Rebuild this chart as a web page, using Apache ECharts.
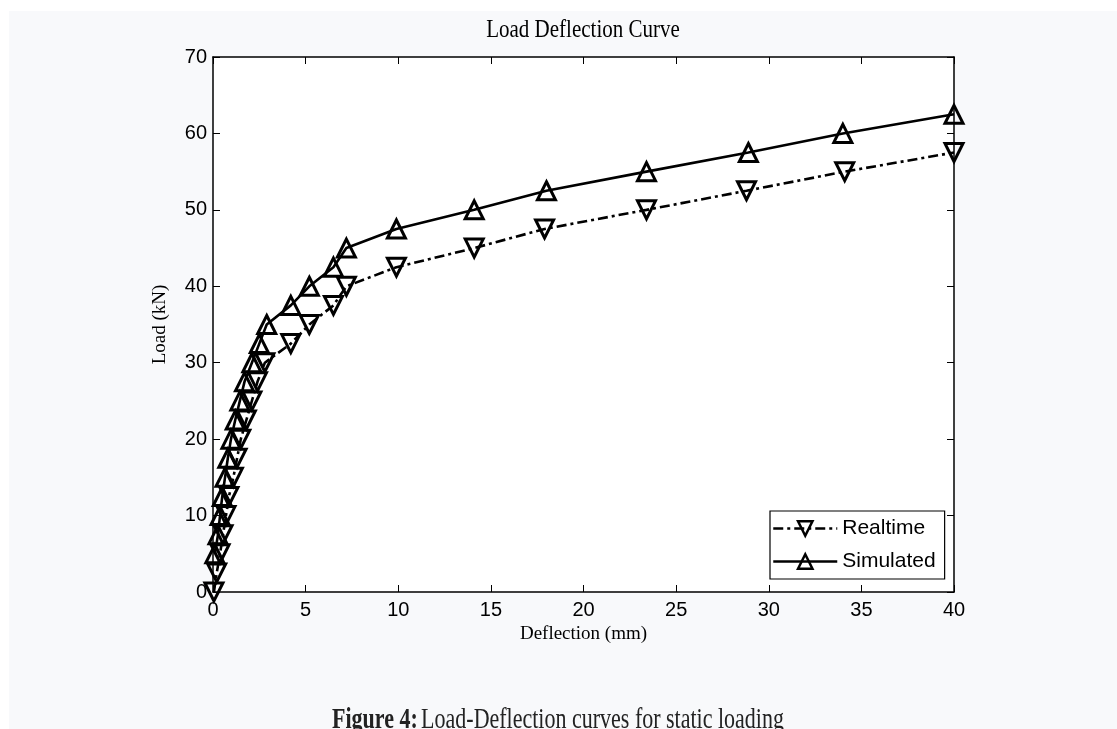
<!DOCTYPE html>
<html>
<head>
<meta charset="utf-8">
<script src="https://cdn.jsdelivr.net/npm/echarts@6/dist/echarts.min.js"></script>
<style>
html,body{margin:0;padding:0;background:#fff;}
#chart{width:1117px;height:729px;}
</style>
</head>
<body>
<div id="chart"></div>
<script>
// Data
const realtimeLoad = [0, 2.5, 5, 7.5, 10, 12.5, 15, 17.5, 20, 22.5, 25, 27.5, 30, 32.5, 35, 37.5, 40, 42.5, 45, 47.5, 50, 52.5, 55, 57.5];
const realtimeDefl = [0.05, 0.2, 0.38, 0.54, 0.7, 0.86, 1.1, 1.3, 1.5, 1.8, 2.1, 2.4, 2.8, 4.2, 5.2, 6.5, 7.2, 9.9, 14.1, 17.9, 23.4, 28.8, 34.1, 40];
const simulatedLoad = [5, 7.5, 10, 12.5, 15, 17.5, 20, 22.5, 25, 27.5, 30, 32.5, 35, 37.5, 40, 42.5, 45, 47.5, 50, 52.5, 55, 57.5, 60, 62.5];
const simulatedDefl = [0.1, 0.27, 0.38, 0.5, 0.65, 0.8, 0.97, 1.2, 1.45, 1.7, 2.1, 2.5, 2.9, 4.2, 5.2, 6.5, 7.2, 9.9, 14.1, 18.0, 23.4, 28.9, 34.0, 40];
const seriesNames = ['Realtime', 'Simulated'];
const chartTitle = 'Load Deflection Curve';
const xName = 'Deflection (mm)';
const yName = 'Load (kN)';

const serif = "'Liberation Serif','Times New Roman',serif";
const sans = "'Liberation Sans',Arial,sans-serif";

const chart = echarts.init(document.getElementById('chart'), null, {renderer: 'canvas'});

const pairs = (xs, ys) => xs.map((x, i) => [x, ys[i]]);

const axisCommon = {
  axisLine: {show: true, onZero: false, lineStyle: {color: '#000', width: 1.5}},
  axisTick: {show: true, inside: true, length: 7, lineStyle: {color: '#000', width: 1}},
  splitLine: {show: false}
};

chart.setOption({
  backgroundColor: '#f8f9fb',
  animation: false,
  grid: {left: 213, top: 57, right: 163, bottom: 137, show: true, backgroundColor: '#fff', borderWidth: 0},
  xAxis: [
    Object.assign({
      type: 'value', min: 0, max: 40, interval: 5, position: 'bottom',
      name: xName, nameLocation: 'middle', nameGap: 30,
      nameTextStyle: {fontFamily: serif, fontSize: 19, color: '#000'},
      axisLabel: {fontFamily: sans, fontSize: 20, color: '#000', margin: 8}
    }, axisCommon),
    Object.assign({
      type: 'value', min: 0, max: 40, interval: 5, position: 'top',
      axisLabel: {show: false}
    }, axisCommon)
  ],
  yAxis: [
    Object.assign({
      type: 'value', min: 0, max: 70, interval: 10, position: 'left',
      name: yName, nameLocation: 'middle', nameGap: 43,
      nameTextStyle: {fontFamily: serif, fontSize: 19, color: '#000'},
      axisLabel: {fontFamily: sans, fontSize: 20, color: '#000', margin: 6}
    }, axisCommon),
    Object.assign({
      type: 'value', min: 0, max: 70, interval: 10, position: 'right',
      axisLabel: {show: false}
    }, axisCommon)
  ],
  legend: {
    orient: 'vertical', left: 770, top: 511,
    itemWidth: 64, itemHeight: 18, itemGap: 12,
    padding: [7, 9, 7, 2],
    backgroundColor: '#fff', borderColor: '#000', borderWidth: 1.2, borderRadius: 0,
    textStyle: {fontFamily: sans, fontSize: 21, color: '#000'},
    lineStyle: {width: 2.5},
    itemStyle: {borderWidth: 2.5},
    data: seriesNames
  },
  series: [
    {
      name: seriesNames[0], type: 'line', color: '#000',
      data: pairs(realtimeDefl, realtimeLoad),
      showAllSymbol: true, symbol: 'triangle', symbolRotate: 180, symbolSize: 18,
      lineStyle: {color: '#000', width: 2.6, type: [10, 4, 3, 4]},
      itemStyle: {color: 'rgba(255,255,255,0)', borderColor: '#000', borderWidth: 3}
    },
    {
      name: seriesNames[1], type: 'line', color: '#000',
      data: pairs(simulatedDefl, simulatedLoad),
      showAllSymbol: true, symbol: 'triangle', symbolSize: 18,
      lineStyle: {color: '#000', width: 2.6, type: 'solid'},
      itemStyle: {color: 'rgba(255,255,255,0)', borderColor: '#000', borderWidth: 3}
    }
  ],
  graphic: [
    {type: 'rect', left: 0, top: 0, shape: {width: 1117, height: 11}, style: {fill: '#fff'}, silent: true},
    {type: 'rect', left: 0, top: 0, shape: {width: 9, height: 729}, style: {fill: '#fff'}, silent: true},
    {type: 'text', x: 583, y: 31, scaleY: 1.15, style: {text: chartTitle, font: '21px ' + serif, fill: '#000', align: 'center', verticalAlign: 'middle'}},
    {type: 'text', x: 558, y: 735, scaleY: 1.35, style: {
      text: '{b|Figure 4:} {n|Load-Deflection curves for static loading}',
      align: 'center', verticalAlign: 'bottom',
      rich: {
        b: {fontFamily: serif, fontSize: 22, fontWeight: 'bold', fill: '#222'},
        n: {fontFamily: serif, fontSize: 22, fill: '#222'}
      }
    }}
  ]
});
</script>
</body>
</html>
